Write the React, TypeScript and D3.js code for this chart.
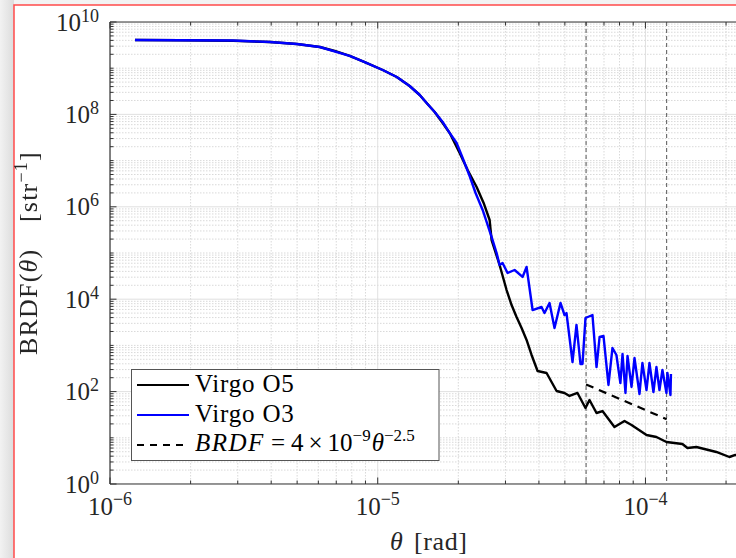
import React from "react";
import * as d3 from "d3";

// ---- data ----
const thetaO5 = [1.24e-6, 1.825e-6, 2.88e-6, 3.954e-6, 4.99e-6, 6.075e-6, 6.91e-6, 7.86e-6, 8.94e-6, 1.044e-5, 1.178e-5, 1.316e-5, 1.435e-5, 1.523e-5, 1.632e-5, 1.748e-5, 1.857e-5, 2.023e-5, 2.167e-5, 2.341e-5, 2.486e-5, 2.618e-5, 2.663e-5, 2.852e-5, 3.029e-5, 3.162e-5, 3.3e-5, 3.446e-5, 3.597e-5, 3.755e-5, 3.954e-5, 4.272e-5, 4.656e-5, 4.985e-5, 5.204e-5, 5.574e-5, 5.97e-5, 6.18e-5, 6.565e-5, 6.91e-5, 7.66e-5, 8.35e-5, 8.87e-5, 1.009e-4, 1.099e-4, 1.198e-4, 1.374e-4, 1.435e-4, 1.55e-4, 1.84e-4, 2.058e-4, 2.167e-4, 2.4e-4];
const brdfO5 = [4.08e9, 4.04e9, 3.94e9, 3.69e9, 3.34e9, 2.88e9, 2.36e9, 1.84e9, 1.36e9, 9.14e8, 6.45e8, 4.12e8, 2.63e8, 1.77e8, 1.13e8, 6.52e7, 3.95e7, 1.46e7, 6.26e6, 2.69e6, 1.21e6, 5.18e5, 1.91e5, 5.5e4, 1.58e4, 7.48e3, 4.12e3, 2.38e3, 1.31e3, 620, 279, 253, 103, 93.3, 80.4, 93.3, 44.2, 65.8, 34.4, 38.0, 17.1, 23.1, 18.9, 11.5, 10.4, 8.11, 7.34, 6.01, 6.32, 4.93, 3.84, 4.25, 3.48];

const thetaO3 = [1.24e-6, 1.825e-6, 2.88e-6, 3.954e-6, 4.99e-6, 6.075e-6, 7.86e-6, 8.94e-6, 1.044e-5, 1.178e-5, 1.316e-5, 1.435e-5, 1.523e-5, 1.632e-5, 1.748e-5, 1.857e-5, 1.971e-5, 2.076e-5, 2.204e-5, 2.32e-5, 2.465e-5, 2.551e-5, 2.663e-5, 2.78e-5, 2.852e-5, 2.926e-5, 3.055e-5, 3.245e-5, 3.475e-5, 3.597e-5, 3.788e-5, 4.09e-5, 4.197e-5, 4.382e-5, 4.574e-5, 4.816e-5, 4.985e-5, 5.07e-5, 5.34e-5, 5.525e-5, 5.72e-5, 5.82e-5, 5.97e-5, 6.34e-5, 6.565e-5, 6.74e-5, 6.97e-5, 7.275e-5, 7.53e-5, 7.79e-5, 8.06e-5, 8.21e-5, 8.42e-5, 8.57e-5, 8.87e-5, 9.1e-5, 9.5e-5, 9.74e-5, 1.009e-4, 1.035e-4, 1.071e-4, 1.099e-4, 1.128e-4, 1.157e-4, 1.198e-4, 1.208e-4, 1.24e-4, 1.245e-4];
const brdfO3 = [4.08e9, 4.04e9, 3.98e9, 3.69e9, 3.34e9, 2.88e9, 1.84e9, 1.36e9, 9.14e8, 6.45e8, 4.12e8, 2.63e8, 1.77e8, 1.13e8, 6.85e7, 3.95e7, 2.4e7, 1.14e7, 4.64e6, 1.99e6, 8.53e5, 4.69e5, 2.22e5, 1.0e5, 5.5e4, 6.08e4, 3.69e4, 4.29e4, 3.03e4, 4.98e4, 5.83e3, 6.78e3, 5.03e3, 8.28e3, 2.38e3, 8.28e3, 4.55e3, 5.03e3, 437, 2.77e3, 395, 395, 3.92e3, 4.55e3, 340, 1.52e3, 1.6e3, 139, 879, 620, 153, 651, 93.3, 590, 126, 533, 88.8, 416, 108, 416, 98, 340, 108, 294, 93.3, 253, 84.4, 240];

const thetaFit = [6e-5, 1.2e-4];
const brdfFit = [143, 25.3];
const markerTheta = [6e-5, 1.2e-4];

const xTickExps = [-6, -5, -4];
const yTickExps = [0, 2, 4, 6, 8, 10];
const legendLabels = ["Virgo O5", "Virgo O3"];

// ---- layout ----
const W = 736, H = 558;
const L = 110, R = 752, T = 22, B = 484;
const FONT = "'Liberation Serif', 'Times New Roman', serif";

export default function App() {
  const x = d3.scaleLog().domain([1e-6, 2.5e-4]).range([L, R]);
  const y = d3.scaleLog().domain([1, 1e10]).range([B, T]);

  const xMinor: number[] = [];
  for (let e = -6; e <= -4; e++) for (let k = 2; k <= 9; k++) {
    const v = k * Math.pow(10, e);
    if (v <= 2.5e-4) xMinor.push(v);
  }
  const yMinor: number[] = [];
  for (let e = 0; e <= 9; e++) for (let k = 2; k <= 9; k++) yMinor.push(k * Math.pow(10, e));
  const yDecades = d3.range(0, 11);

  const line = d3.line<[number, number]>().x(d => x(d[0])).y(d => y(d[1]));
  const o5 = line(thetaO5.map((t, i) => [t, brdfO5[i]]));
  const o3 = line(thetaO3.map((t, i) => [t, brdfO3[i]]));
  const fit = line(thetaFit.map((t, i) => [t, brdfFit[i]]));

  const gridMinor = { stroke: "#cfcfcf", strokeWidth: 0.8, strokeDasharray: "1.5,1.5" };
  const gridMajor = { stroke: "#dcdcdc", strokeWidth: 0.9 };
  const axisCol = "#333";

  return (
    <div style={{ position: "fixed", left: 0, top: 0 }}>
      <svg width={W} height={H} style={{ display: "block" }} fontFamily={FONT}>
        <defs>
          <linearGradient id="bgl" x1="0" x2="1" y1="0" y2="0">
            <stop offset="0" stopColor="#f2f2f2" />
            <stop offset="1" stopColor="#dcdcdc" />
          </linearGradient>
          <clipPath id="plot"><rect x={L} y={T} width={R - L} height={B - T} /></clipPath>
        </defs>
        <rect x={0} y={0} width={W} height={H} fill="#f3f3f3" />
        <rect x={0} y={0} width={14} height={H} fill="url(#bgl)" />
        <rect x={14} y={5} width={W + 40} height={H + 40} fill="#fff" stroke="#ff4b4b" strokeWidth={1.5} />

        {/* grid */}
        <g clipPath="url(#plot)">
          {xMinor.map((v, i) => <line key={"xm" + i} x1={x(v)} x2={x(v)} y1={T} y2={B} {...gridMinor} />)}
          {yMinor.map((v, i) => <line key={"ym" + i} x1={L} x2={R} y1={y(v)} y2={y(v)} {...gridMinor} />)}
          {xTickExps.map(e => <line key={"xM" + e} x1={x(Math.pow(10, e))} x2={x(Math.pow(10, e))} y1={T} y2={B} {...gridMajor} />)}
          {yDecades.map(e => <line key={"yM" + e} x1={L} x2={R} y1={y(Math.pow(10, e))} y2={y(Math.pow(10, e))} {...(e % 2 === 0 ? gridMajor : gridMinor)} />)}

          {markerTheta.map((t, i) => <line key={"vl" + i} x1={x(t)} x2={x(t)} y1={T} y2={B} stroke="#555" strokeWidth={1} strokeDasharray="4,3" />)}

          <path d={o5 || ""} fill="none" stroke="#000" strokeWidth={2.4} strokeLinejoin="round" />
          <path d={o3 || ""} fill="none" stroke="#0000ff" strokeWidth={2.4} strokeLinejoin="round" />
          <path d={fit || ""} fill="none" stroke="#000" strokeWidth={2.2} strokeDasharray="8,6" />
        </g>

        {/* axes box + ticks */}
        <line x1={L} x2={L} y1={T} y2={B} stroke={axisCol} strokeWidth={1.2} />
        <line x1={L} x2={R} y1={B} y2={B} stroke={axisCol} strokeWidth={1.2} />
        <line x1={L} x2={R} y1={T} y2={T} stroke={axisCol} strokeWidth={1.2} />
        <line x1={R} x2={R} y1={T} y2={B} stroke={axisCol} strokeWidth={1.2} />
        {xMinor.map((v, i) => (
          <g key={"xt" + i}>
            <line x1={x(v)} x2={x(v)} y1={B} y2={B - 3.5} stroke={axisCol} />
            <line x1={x(v)} x2={x(v)} y1={T} y2={T + 3.5} stroke={axisCol} />
          </g>
        ))}
        {xTickExps.map(e => (
          <g key={"xT" + e}>
            <line x1={x(Math.pow(10, e))} x2={x(Math.pow(10, e))} y1={B} y2={B - 6.5} stroke={axisCol} />
            <line x1={x(Math.pow(10, e))} x2={x(Math.pow(10, e))} y1={T} y2={T + 6.5} stroke={axisCol} />
          </g>
        ))}
        {yMinor.concat(yDecades.filter(e => e % 2 === 1).map(e => Math.pow(10, e))).map((v, i) => (
          <line key={"yt" + i} x1={L} x2={L + 3.5} y1={y(v)} y2={y(v)} stroke={axisCol} />
        ))}
        {yTickExps.map(e => (
          <line key={"yT" + e} x1={L} x2={L + 6.5} y1={y(Math.pow(10, e))} y2={y(Math.pow(10, e))} stroke={axisCol} />
        ))}

        {/* tick labels */}
        {xTickExps.map(e => (
          <text key={"xl" + e} x={x(Math.pow(10, e))} y={515} textAnchor="middle" fontSize={25} fill="#262626">
            10<tspan fontSize={18} dy={-10}>{"\u2212" + Math.abs(e)}</tspan>
          </text>
        ))}
        {yTickExps.map(e => (
          <text key={"yl" + e} x={99} y={y(Math.pow(10, e)) + 8.5} textAnchor="end" fontSize={25} fill="#262626">
            10<tspan fontSize={18} dy={-9}>{String(e)}</tspan>
          </text>
        ))}

        {/* axis labels */}
        <text x={390} y={550} fontSize={26} fill="#262626">
          <tspan fontStyle="italic">θ</tspan>
          <tspan x={414} letterSpacing={0.6}>[rad]</tspan>
        </text>
        <g transform="translate(37,355) rotate(-90)">
          <text x={0} y={0} fontSize={26} fill="#262626" letterSpacing={1.2}>
            BRDF(<tspan fontStyle="italic">θ</tspan>)
          </text>
          <text x={133} y={0} fontSize={26} fill="#262626" letterSpacing={1.2}>
            [str<tspan fontSize={18} dy={-10}>−1</tspan><tspan dy={10}>]</tspan>
          </text>
        </g>

        {/* legend */}
        <rect x={131.5} y={369.5} width={307.5} height={91} fill="#fff" stroke="#555" strokeWidth={1} />
        <line x1={137} x2={189} y1={385} y2={385} stroke="#000" strokeWidth={2} />
        <text x={195} y={392} fontSize={25} fill="#000" letterSpacing={0.8}>{legendLabels[0]}</text>
        <line x1={137} x2={189} y1={415} y2={415} stroke="#0000ff" strokeWidth={2} />
        <text x={195} y={422} fontSize={25} fill="#000" letterSpacing={0.8}>{legendLabels[1]}</text>
        <line x1={137} x2={189} y1={445} y2={445} stroke="#000" strokeWidth={2} strokeDasharray="7,6" />
        <text x={195} y={451} fontSize={25} fill="#000">
          <tspan fontStyle="italic" letterSpacing={1.5}>BRDF</tspan>
          <tspan dx={6}>=</tspan>
          <tspan dx={6}>4</tspan>
          <tspan dx={5}>×</tspan>
          <tspan dx={5}>10</tspan>
          <tspan fontSize={17} dy={-10}>−9</tspan>
          <tspan dy={10} dx={1} fontStyle="italic">θ</tspan>
          <tspan fontSize={17} dy={-10}>−2.5</tspan>
        </text>
      </svg>
    </div>
  );
}
